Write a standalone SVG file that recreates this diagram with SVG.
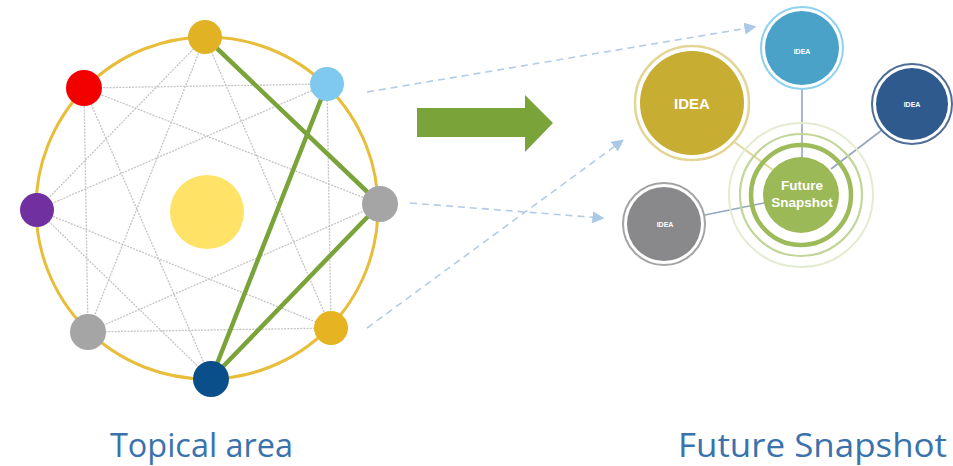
<svg xmlns="http://www.w3.org/2000/svg" width="953" height="466" viewBox="0 0 953 466">
<style>
.dot{stroke:#c4c4c4;stroke-width:1.3;stroke-dasharray:2 1.2;fill:none}
.grn{stroke:#7aa33a;stroke-width:4.5;stroke-linecap:round;fill:none}
.dash{stroke:#b3cde6;stroke-width:1.6;stroke-dasharray:7 5;fill:none}
.fsl{stroke:#93a6bd;stroke-width:1.6;fill:none}
.lbl{font-family:"Open Sans","Liberation Sans",sans-serif;fill:#3a72ad}
.it{font-family:"Liberation Sans",Arial,sans-serif;font-weight:bold;fill:#ffffff;text-anchor:middle}
</style>
<defs>
<marker id="ah" markerUnits="userSpaceOnUse" markerWidth="12" markerHeight="12" viewBox="0 0 10 10" refX="8" refY="5" orient="auto">
<path d="M0,0 L10,5 L0,10 z" fill="#a9c9e6"/>
</marker>
</defs>
<rect width="953" height="466" fill="#ffffff"/>

<g id="ring">
<circle cx="207" cy="208" r="171" fill="none" stroke="#e8bd3a" stroke-width="3"/>
</g>

<g id="connectors">
<line class="dot" x1="84" y1="88" x2="327" y2="84"/>
<line class="dot" x1="327" y1="84" x2="331" y2="328"/>
<line class="dot" x1="331" y1="328" x2="88" y2="332"/>
<line class="dot" x1="88" y1="332" x2="84" y2="88"/>
<line class="dot" x1="205" y1="37" x2="37" y2="210"/>
<line class="dot" x1="37" y1="210" x2="211" y2="379"/>
<line class="dot" x1="205" y1="37" x2="331" y2="328"/>
<line class="dot" x1="380" y1="204" x2="88" y2="332"/>
<line class="dot" x1="331" y1="328" x2="37" y2="210"/>
<line class="dot" x1="211" y1="379" x2="84" y2="88"/>
<line class="dot" x1="88" y1="332" x2="205" y2="37"/>
<line class="dot" x1="37" y1="210" x2="327" y2="84"/>
<line class="dot" x1="84" y1="88" x2="380" y2="204"/>
<line class="grn" x1="205" y1="37" x2="380" y2="204"/>
<line class="grn" x1="380" y1="204" x2="211" y2="379"/>
<line class="grn" x1="211" y1="379" x2="327" y2="84"/>
<line class="dash" x1="367" y1="92" x2="754" y2="27" marker-end="url(#ah)"/>
<line class="dash" x1="410" y1="203" x2="602" y2="218" marker-end="url(#ah)"/>
<line class="dash" x1="367" y1="328" x2="622" y2="141" marker-end="url(#ah)"/>
<line class="fsl" x1="802" y1="89" x2="802" y2="158"/>
<line class="fsl" x1="882" y1="130" x2="831" y2="169"/>
<line class="fsl" x1="705" y1="215" x2="764" y2="203"/>
<line x1="733" y1="141" x2="773" y2="170" stroke="#e2d69a" stroke-width="2"/>
</g>

<g id="node-top"><circle cx="205" cy="37" r="17" fill="#e2b225"/></g>
<g id="node-red"><circle cx="84" cy="88" r="18" fill="#f20000"/></g>
<g id="node-lightblue"><circle cx="327" cy="84" r="17" fill="#7fc8ee"/></g>
<g id="node-purple"><circle cx="37" cy="210" r="17" fill="#7030a0"/></g>
<g id="node-grayright"><circle cx="380" cy="204" r="18" fill="#a5a5a5"/></g>
<g id="node-grayleft"><circle cx="88" cy="332" r="18" fill="#a5a5a5"/></g>
<g id="node-goldbr"><circle cx="331" cy="328" r="17" fill="#e6b322"/></g>
<g id="node-navy"><circle cx="211" cy="379" r="18" fill="#0a4f8a"/></g>
<g id="node-center"><circle cx="207" cy="212" r="37" fill="#ffe266"/></g>

<g id="big-arrow">
<path d="M417,108 L525,108 L525,95 L553,123 L525,152 L525,137 L417,137 z" fill="#7aa33a"/>
</g>

<g id="fs-rings">
<circle cx="801" cy="195" r="72" fill="none" stroke="#e3ecd0" stroke-width="2"/>
<circle cx="801" cy="195" r="61" fill="none" stroke="#c3d69a" stroke-width="2.2"/>
<circle cx="801" cy="195" r="50" fill="none" stroke="#9dbb5a" stroke-width="4.5"/>
</g>

<g id="idea-gold">
<circle cx="692" cy="103" r="57" fill="#ffffff" stroke="#e3d595" stroke-width="2.5"/>
<circle cx="692" cy="103" r="52" fill="#c7ad32"/>
<text class="it" x="692" y="109" font-size="15">IDEA</text>
</g>
<g id="idea-lightblue">
<circle cx="802" cy="48" r="41" fill="#ffffff" stroke="#8ed2ee" stroke-width="2"/>
<circle cx="802" cy="48" r="37" fill="#4aa2c9"/>
<text class="it" x="802" y="54" font-size="7">IDEA</text>
</g>
<g id="idea-navy">
<circle cx="912" cy="104" r="40" fill="#ffffff" stroke="#4f6e98" stroke-width="2"/>
<circle cx="912" cy="104" r="36" fill="#2f5a8e"/>
<text class="it" x="912" y="107" font-size="7">IDEA</text>
</g>
<g id="idea-gray">
<circle cx="664" cy="224" r="41" fill="#ffffff" stroke="#a4a4a4" stroke-width="2"/>
<circle cx="664" cy="224" r="37" fill="#89898b"/>
<text class="it" x="665" y="227" font-size="7">IDEA</text>
</g>
<g id="future-snapshot">
<circle cx="801" cy="195" r="38" fill="#9cb957"/>
<text class="it" x="802" y="190" font-size="13.5">Future</text>
<text class="it" x="802" y="207" font-size="13.5">Snapshot</text>
</g>

<g id="labels">
<text class="lbl" x="110" y="457" font-size="33" textLength="183" lengthAdjust="spacingAndGlyphs">Topical area</text>
<text class="lbl" x="678" y="457" font-size="33" textLength="269" lengthAdjust="spacingAndGlyphs">Future Snapshot</text>
</g>
</svg>
